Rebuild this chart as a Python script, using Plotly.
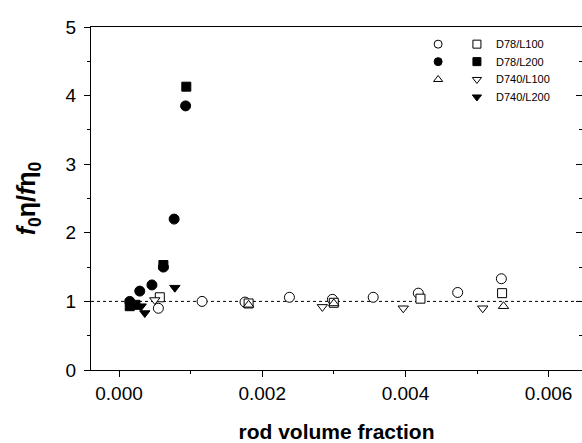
import plotly.graph_objects as go

# ---- data ----
d78_l100_circ_x = [0.00055, 0.00116, 0.00176, 0.00238, 0.00298, 0.00355, 0.00418, 0.00473, 0.00534]
d78_l100_circ_y = [0.90, 1.00, 0.99, 1.06, 1.03, 1.06, 1.12, 1.13, 1.33]
d78_l100_sq_x = [0.00057, 0.00181, 0.00300, 0.00421, 0.00535]
d78_l100_sq_y = [1.06, 0.97, 0.98, 1.04, 1.12]

d78_l200_circ_x = [0.00015, 0.00029, 0.00046, 0.00062, 0.00077, 0.00093]
d78_l200_circ_y = [1.00, 1.15, 1.24, 1.50, 2.20, 3.85]
d78_l200_sq_x = [0.00015, 0.00023, 0.00062, 0.00094]
d78_l200_sq_y = [0.93, 0.95, 1.53, 4.13]

d740_l100_up_x = [0.00181, 0.00300, 0.00537]
d740_l100_up_y = [0.95, 0.97, 0.93]
d740_l100_dn_x = [0.00050, 0.00284, 0.00397, 0.00508]
d740_l100_dn_y = [1.02, 0.92, 0.90, 0.90]

d740_l200_dn_x = [0.00031, 0.00036, 0.00078]
d740_l200_dn_y = [0.93, 0.83, 1.20]

legend_labels = ["D78/L100", "D78/L200", "D740/L100", "D740/L200"]

x_range = [-0.000391, 0.006466]
y_range = [0, 5]
ref_level = 1.0

FONT = "Liberation Sans, Arial, sans-serif"

fig = go.Figure()

def add(x, y, symbol, filled, size=9):
    fig.add_trace(go.Scatter(
        x=x, y=y, mode="markers", showlegend=False, cliponaxis=False,
        marker=dict(symbol=symbol, size=size,
                    color="black" if filled else "white",
                    line=dict(color="black", width=1)),
    ))

add(d78_l100_circ_x, d78_l100_circ_y, "circle", False, 10)
add(d78_l100_sq_x, d78_l100_sq_y, "square", False, 9)
add(d740_l100_up_x, d740_l100_up_y, "triangle-up", False, 9)
add(d740_l100_dn_x, d740_l100_dn_y, "triangle-down", False, 9)
add(d78_l200_circ_x, d78_l200_circ_y, "circle", True, 10)
add(d78_l200_sq_x, d78_l200_sq_y, "square", True, 9)
add(d740_l200_dn_x, d740_l200_dn_y, "triangle-down", True, 9)

# reference dotted line at y = 1
fig.add_shape(type="line", xref="paper", x0=0, x1=1, yref="y", y0=ref_level, y1=ref_level,
              line=dict(color="black", width=1, dash="dot"), layer="below")

# right axis carrier (inside ticks)
fig.add_trace(go.Scatter(x=d78_l200_circ_x, y=d78_l200_circ_y, yaxis="y2", mode="markers",
                         marker=dict(opacity=0), showlegend=False, hoverinfo="skip"))

# legend drawn on its own invisible axes (plot fractions)
leg_rows_y = [0.950, 0.899, 0.847, 0.796]
col_a = 0.707
col_b = 0.786
leg_text_x = 0.820
leg_syms = [("circle", False, "square", False),
            ("circle", True, "square", True),
            ("triangle-up", False, "triangle-down", False),
            (None, None, "triangle-down", True)]
for ry, (s1, f1, s2, f2), lab in zip(leg_rows_y, leg_syms, legend_labels):
    for s, f, cx in ((s1, f1, col_a), (s2, f2, col_b)):
        if s is None:
            continue
        fig.add_trace(go.Scatter(
            x=[cx], y=[ry], xaxis="x3", yaxis="y3", mode="markers", showlegend=False,
            hoverinfo="skip",
            marker=dict(symbol=s, size=8, color="black" if f else "white",
                        line=dict(color="black", width=1))))
    fig.add_annotation(x=leg_text_x, y=ry, xref="paper", yref="paper", text=lab, showarrow=False,
                       xanchor="left", yanchor="middle", font=dict(family=FONT, size=11, color="black"))

axis_common = dict(showgrid=False, zeroline=False, linecolor="black", linewidth=1,
                   tickcolor="black", tickfont=dict(family=FONT, size=19, color="black"))

fig.update_layout(
    width=582, height=443, autosize=False,
    margin=dict(l=91, r=0, t=27, b=73),
    plot_bgcolor="white", paper_bgcolor="white",
    font=dict(family=FONT, color="black"),
    xaxis=dict(range=x_range, tickvals=[0, 0.002, 0.004, 0.006],
               ticktext=["0.000", "0.002", "0.004", "0.006"],
               ticks="outside", ticklen=6, mirror=True, showline=True,
               minor=dict(ticks="outside", ticklen=3, dtick=0.001, tick0=0, tickcolor="black"),
               title=dict(text="<b>rod volume fraction</b>", font=dict(family=FONT, size=21),
                          standoff=22),
               **axis_common),
    yaxis=dict(range=y_range, dtick=1, ticks="outside", ticklen=6, showline=True,
               ticklabelstandoff=4,
               minor=dict(ticks="outside", ticklen=3, dtick=0.5, tickcolor="black"),
               title=dict(text="<b><i>f</i><sub>0</sub>η/<i>f</i>η<sub>0</sub></b>",
                          font=dict(family=FONT, size=25), standoff=22),
               **axis_common),
    yaxis2=dict(range=y_range, overlaying="y", side="right", dtick=1, ticks="inside", ticklen=6,
                showline=False, showticklabels=False, showgrid=False, zeroline=False,
                tickcolor="black",
                minor=dict(ticks="inside", ticklen=3, dtick=0.5, tickcolor="black")),
    xaxis3=dict(domain=[0, 1], range=[0, 1], anchor="y3", visible=False, overlaying="x"),
    yaxis3=dict(domain=[0, 1], range=[0, 1], anchor="x3", visible=False, overlaying="y"),
)

fig.write_html("out.html", config={"displayModeBar": False},
               post_script="document.body.style.margin='0';document.body.style.overflow='hidden';")
